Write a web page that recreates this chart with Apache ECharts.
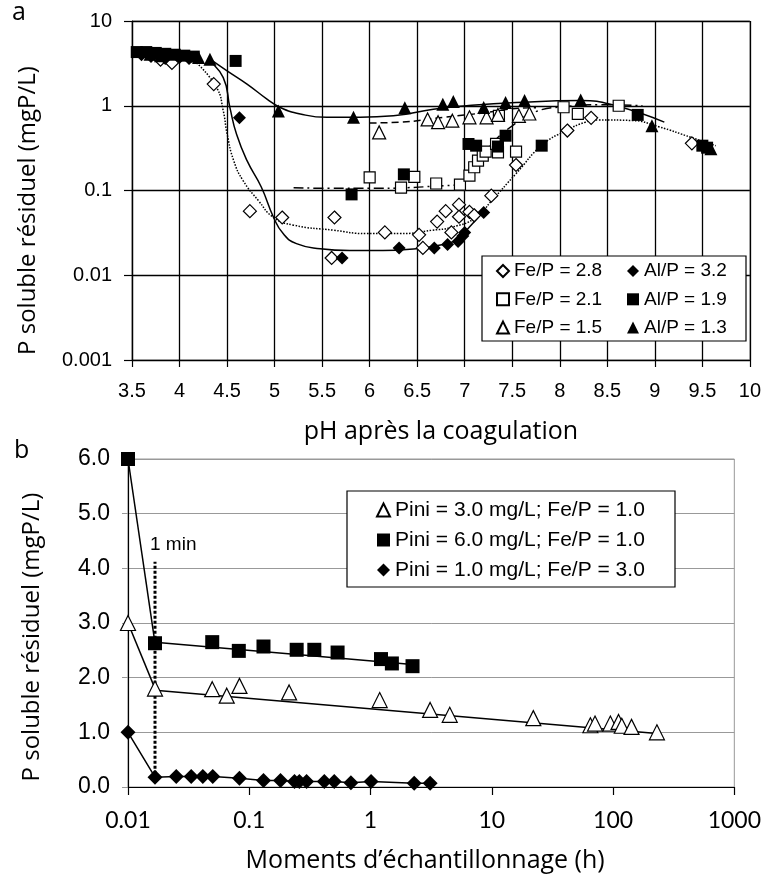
<!DOCTYPE html>
<html>
<head>
<meta charset="utf-8">
<script src="https://cdn.jsdelivr.net/npm/echarts@6/dist/echarts.min.js"></script>
<style>
html,body{margin:0;padding:0;background:#fff;}
#c{width:764px;height:875px;}
</style>
</head>
<body>
<div id="c"></div>
<script>
// ---------- Panel a data: [pH, P soluble résiduel (mgP/L)] ----------
const feP28 = [[3.8,3.5],[3.92,3.2],[4.36,1.8],[4.74,0.057],[5.08,0.048],[5.6,0.016],[5.63,0.048],[6.16,0.032],[6.52,0.030],[6.56,0.021],[6.71,0.043],[6.80,0.057],[6.86,0.032],[6.94,0.068],[6.94,0.049],[7.05,0.056],[7.10,0.051],[7.28,0.087],[7.54,0.20],[8.08,0.51],[8.33,0.72],[9.39,0.36]];
const feP28Fit = [[4.18,3.2],[4.39,1.64],[4.46,0.87],[4.5,0.47],[4.57,0.225],[4.67,0.13],[4.83,0.076],[4.99,0.048],[5.2,0.039],[5.62,0.034],[5.97,0.031],[6.32,0.031],[6.66,0.034],[6.87,0.037],[7.12,0.048],[7.28,0.075],[7.54,0.158],[7.82,0.348],[8.07,0.51],[8.27,0.64],[8.41,0.68],[8.76,0.67],[9.04,0.566],[9.39,0.42],[9.64,0.338]];
const alP32 = [[3.6,4.0],[3.7,3.8],[3.85,3.6],[4.0,3.7],[4.1,3.6],[4.63,0.72],[5.71,0.016],[6.31,0.021],[6.68,0.021],[6.82,0.023],[6.93,0.025],[6.98,0.029],[7.0,0.032],[7.2,0.055]];
const alP32Fit = [[4.3,3.5],[4.46,2.15],[4.53,0.95],[4.60,0.46],[4.71,0.225],[4.86,0.11],[4.99,0.048],[5.09,0.031],[5.23,0.0236],[5.48,0.0206],[5.79,0.0196],[6.14,0.0196],[6.49,0.0206],[6.73,0.0226],[6.91,0.026],[7.05,0.037],[7.19,0.056]];
const feP21 = [[6.0,0.143],[6.33,0.108],[6.47,0.145],[6.70,0.121],[6.95,0.117],[7.05,0.15],[7.10,0.188],[7.14,0.225],[7.19,0.258],[7.22,0.288],[7.33,0.354],[7.35,0.282],[7.54,0.288],[7.36,0.76],[8.04,0.96],[8.19,0.80],[8.62,1.0]];
const feP21Fit = [[5.2,0.108],[5.6,0.106],[6.0,0.106],[6.4,0.108],[6.7,0.113],[6.95,0.118],[7.05,0.157],[7.26,0.33],[7.5,0.58],[7.77,0.87],[8.03,0.97],[8.41,1.03],[8.87,1.0]];
const alP19 = [[3.55,4.3],[3.65,4.3],[3.75,4.2],[3.85,4.1],[3.95,4.0],[4.05,3.9],[4.15,3.8],[4.59,3.38],[5.81,0.09],[6.36,0.155],[7.04,0.354],[7.12,0.338],[7.35,0.33],[7.43,0.443],[7.81,0.338],[8.82,0.78],[9.5,0.338],[9.55,0.32]];
const feP15 = [[6.1,0.485],[6.61,0.69],[6.72,0.64],[6.87,0.666],[7.05,0.73],[7.23,0.73],[7.35,0.78],[7.57,0.76],[7.68,0.81]];
const feP15Fit = [[6.0,0.626],[6.32,0.64],[6.77,0.73],[7.22,0.83],[7.5,0.92],[7.75,0.95]];
const alP13 = [[3.69,4.05],[3.8,3.9],[4.2,3.7],[4.32,3.54],[5.04,0.87],[5.83,0.73],[6.37,0.95],[6.77,1.04],[6.88,1.12],[7.2,0.955],[7.43,1.09],[7.63,1.15],[8.22,1.17],[8.97,0.58],[9.59,0.31]];
const alP13Fit = [[4.32,3.54],[4.5,2.58],[4.71,1.8],[4.92,1.2],[5.06,0.955],[5.27,0.8],[5.55,0.73],[5.9,0.73],[6.25,0.76],[6.67,0.91],[7.02,1.0],[7.54,1.09],[8.22,1.15],[8.59,1.0],[9.1,0.64]];

// ---------- Panel b data: sampling time (h) and P soluble résiduel (mgP/L) ----------
const p6Times  = [0.01,0.0167,0.0495,0.082,0.131,0.246,0.344,0.535,1.22,1.50,2.22];
const p6Values = [6.0,2.63,2.65,2.49,2.57,2.51,2.51,2.46,2.34,2.26,2.21];
const p6Fit    = [[0.0167,2.65],[2.22,2.24]];
const p3Times  = [0.01,0.0167,0.0495,0.0652,0.083,0.213,1.19,3.10,4.50,22.0,65,71,95,111,118,142,230];
const p3Values = [3.0,1.80,1.79,1.67,1.85,1.73,1.59,1.41,1.32,1.26,1.13,1.16,1.16,1.19,1.12,1.10,1.00];
const p3Fit    = [[0.0167,1.77],[230,0.98]];
const p1Times  = [0.01,0.0167,0.025,0.0332,0.0414,0.050,0.083,0.131,0.181,0.236,0.259,0.297,0.416,0.502,0.689,1.01,2.29,3.10];
const p1Values = [1.0,0.18,0.19,0.19,0.19,0.19,0.16,0.12,0.12,0.10,0.10,0.10,0.10,0.10,0.08,0.10,0.07,0.07];
const oneMinuteMark = [[0.0167,0.15],[0.0167,4.12]];

const xTicksA = [3.5,4,4.5,5,5.5,6,6.5,7,7.5,8,8.5,9,9.5,10];
const yTicksA = [0.001,0.01,0.1,1,10];
const xTicksB = [0.01,0.1,1,10,100,1000];
const yTicksB = [0,1,2,3,4,5,6];

const zip = (t, v) => t.map((x, i) => [x, v[i]]);

const ARIAL = 'Liberation Sans';
const CAL = 'Lato';
const TITLE = 'Open Sans';

const hollow = {color:'#fff', borderColor:'#000', borderWidth:1.2, opacity:1};
const filled = {color:'#000', borderColor:'#000', borderWidth:0, opacity:1};

function fitLine(name, data, type, xi) {
  return {
    name: name, type:'line', data: data, xAxisIndex: xi, yAxisIndex: xi,
    showSymbol:false, symbol:'none', smooth: xi === 0 ? 0.5 : false,
    lineStyle:{color:'#000', width:1.5, type: type, opacity:1},
    silent:true, z:1
  };
}
function scat(name, data, symbol, size, style, xi) {
  return {
    name: name, type:'scatter', data: data, xAxisIndex: xi, yAxisIndex: xi,
    symbol: symbol, symbolSize: size, itemStyle: style, z:3
  };
}
const fmtNum = v => String(parseFloat(Number(v).toPrecision(3)));

const chart = echarts.init(document.getElementById('c'), null, {renderer:'canvas'});
chart.setOption({
  animation:false,
  backgroundColor:'#fff',
  grid:[
    {left:132, top:21, width:619, height:339, show:true, borderColor:'#999', borderWidth:1, backgroundColor:'transparent'},
    {left:128, top:459, width:607, height:328, show:true, borderColor:'#999', borderWidth:1, backgroundColor:'transparent'}
  ],
  xAxis:[
    {type:'value', gridIndex:0, min:xTicksA[0], max:xTicksA[xTicksA.length-1], interval:0.5,
     name:'pH après la coagulation', nameLocation:'middle', nameGap:59,
     nameTextStyle:{fontFamily:TITLE, fontSize:25, color:'#000'},
     axisLine:{show:true, lineStyle:{color:'#000', width:1.2}},
     axisTick:{show:true, length:7, lineStyle:{color:'#000', width:1.2}},
     axisLabel:{fontFamily:ARIAL, fontSize:20, color:'#000', margin:21, formatter: fmtNum},
     splitLine:{show:true, lineStyle:{color:'#000', width:1.3}}},
    {type:'log', logBase:10, gridIndex:1, min:xTicksB[0], max:xTicksB[xTicksB.length-1],
     name:'Moments d’échantillonnage (h)', nameLocation:'middle', nameGap:61,
     nameTextStyle:{fontFamily:TITLE, fontSize:25, color:'#000', padding:[0,12,0,0]},
     axisLine:{show:true, onZero:false, lineStyle:{color:'#000', width:1.2}},
     axisTick:{show:true, length:8, lineStyle:{color:'#000', width:1.2}},
     axisLabel:{fontFamily:CAL, fontSize:23, color:'#000', margin:22, formatter: fmtNum},
     splitLine:{show:false}, minorTick:{show:false}}
  ],
  yAxis:[
    {type:'log', logBase:10, gridIndex:0, min:yTicksA[0], max:yTicksA[yTicksA.length-1],
     name:'P soluble résiduel (mgP/L)', nameLocation:'middle', nameGap:92, nameRotate:90,
     nameTextStyle:{fontFamily:TITLE, fontSize:24, color:'#000', padding:[0,40,0,0]},
     axisLine:{show:true, lineStyle:{color:'#000', width:1.2}},
     axisTick:{show:true, length:8, lineStyle:{color:'#000', width:1.2}},
     axisLabel:{fontFamily:ARIAL, fontSize:20, color:'#000', margin:20, formatter: fmtNum},
     splitLine:{show:true, lineStyle:{color:'#000', width:1.3}}},
    {type:'value', gridIndex:1, min:yTicksB[0], max:yTicksB[yTicksB.length-1], interval:1,
     name:'P soluble résiduel (mgP/L)', nameLocation:'middle', nameGap:84, nameRotate:90,
     nameTextStyle:{fontFamily:TITLE, fontSize:24, color:'#000', padding:[0,28,0,0]},
     axisLine:{show:true, lineStyle:{color:'#000', width:1.2}},
     axisTick:{show:true, length:6, lineStyle:{color:'#999', width:1}},
     axisLabel:{fontFamily:ARIAL, fontSize:23, color:'#000', margin:18, formatter: v => Number(v).toFixed(1)},
     splitLine:{show:true, lineStyle:{color:'#999', width:1}}}
  ],
  legend:[
    {orient:'vertical', left:496, top:261, padding:0, itemWidth:12, itemHeight:12, itemGap:8.3,
     textStyle:{fontFamily:ARIAL, fontSize:19, color:'#000', lineHeight:20},
     data:['Fe/P = 2.8','Fe/P = 2.1','Fe/P = 1.5'], selectedMode:false},
    {orient:'vertical', left:627, top:261, padding:0, itemWidth:12, itemHeight:12, itemGap:8.3,
     textStyle:{fontFamily:ARIAL, fontSize:19, color:'#000', lineHeight:20},
     data:['Al/P = 3.2','Al/P = 1.9','Al/P = 1.3'], selectedMode:false},
    {orient:'vertical', left:376, top:499, padding:0, itemWidth:13, itemHeight:13, itemGap:8,
     textStyle:{fontFamily:ARIAL, fontSize:21, color:'#000', lineHeight:22},
     data:['Pini = 3.0 mg/L; Fe/P = 1.0','Pini = 6.0 mg/L; Fe/P = 1.0','Pini = 1.0 mg/L; Fe/P = 3.0'], selectedMode:false}
  ],
  graphic:[
    {type:'rect', z:3, shape:{x:482, y:256, width:264, height:85}, style:{fill:'#fff', stroke:'#000', lineWidth:1.2}},
    {type:'rect', z:3, shape:{x:347, y:491, width:328, height:96}, style:{fill:'#fff', stroke:'#000', lineWidth:1.2}},
    {type:'text', left:12, top:0, style:{text:'a', fontFamily:TITLE, fontSize:25, fill:'#000'}},
    {type:'text', left:14, top:438, style:{text:'b', fontFamily:TITLE, fontSize:25, fill:'#000'}}
  ],
  series:[
    fitLine('fit Fe/P = 2.8', feP28Fit, 'dotted', 0),
    fitLine('fit Al/P = 3.2', alP32Fit, 'solid', 0),
    fitLine('fit Fe/P = 2.1', feP21Fit, [10,4,2,4], 0),
    fitLine('fit Fe/P = 1.5', feP15Fit, [7,4], 0),
    fitLine('fit Al/P = 1.3', alP13Fit, 'solid', 0),
    scat('Fe/P = 2.8', feP28, 'diamond', 13, hollow, 0),
    scat('Fe/P = 2.1', feP21, 'rect', 11, hollow, 0),
    scat('Fe/P = 1.5', feP15, 'triangle', 13, hollow, 0),
    scat('Al/P = 3.2', alP32, 'diamond', 13, filled, 0),
    scat('Al/P = 1.9', alP19, 'rect', 12, filled, 0),
    scat('Al/P = 1.3', alP13, 'triangle', 13, filled, 0),

    {name:'1 min', type:'line', xAxisIndex:1, yAxisIndex:1, silent:true, z:2,
     data: oneMinuteMark, showSymbol:false, symbol:'none',
     lineStyle:{color:'#000', width:3, type:[3,2]}},
    {name:'1 min label', type:'scatter', xAxisIndex:1, yAxisIndex:1, silent:true, z:2,
     data:[oneMinuteMark[1]], symbolSize:0, itemStyle:{color:'#000', opacity:1},
     label:{show:true, position:'top', align:'left', offset:[-5,-3], formatter:'1 min',
            fontFamily:ARIAL, fontSize:19, color:'#000', opacity:1}},
    fitLine('start 6', zip(p6Times, p6Values).slice(0,2), 'solid', 1),
    fitLine('fit 6', p6Fit, 'solid', 1),
    fitLine('start 3', zip(p3Times, p3Values).slice(0,2), 'solid', 1),
    fitLine('fit 3', p3Fit, 'solid', 1),
    fitLine('line 1', zip(p1Times, p1Values), 'solid', 1),
    scat('Pini = 3.0 mg/L; Fe/P = 1.0', zip(p3Times, p3Values), 'triangle', 15, hollow, 1),
    scat('Pini = 6.0 mg/L; Fe/P = 1.0', zip(p6Times, p6Values), 'rect', 14, filled, 1),
    scat('Pini = 1.0 mg/L; Fe/P = 3.0', zip(p1Times, p1Values), 'diamond', 15, filled, 1)
  ]
});
</script>
</body>
</html>
